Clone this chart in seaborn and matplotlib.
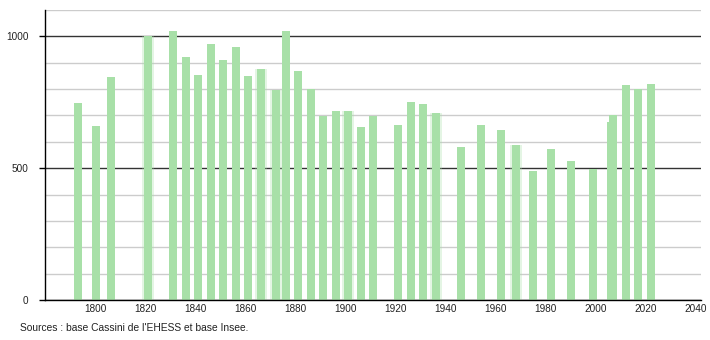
import matplotlib
matplotlib.use("Agg")
import matplotlib.pyplot as plt
import seaborn as sns
import pandas as pd
import numpy as np

years = [1793, 1800, 1806, 1821, 1831, 1836, 1841, 1846, 1851, 1856,
         1861, 1866, 1872, 1876, 1881, 1886, 1891, 1896, 1901, 1906,
         1911, 1921, 1926, 1931, 1936, 1946, 1954, 1962, 1968, 1975,
         1982, 1990, 1999, 2006, 2007, 2012, 2017, 2022]
population = [748, 659, 845, 1001, 1022, 923, 855, 970, 909, 958,
              848, 878, 797, 1021, 868, 801, 697, 717, 717, 657,
              697, 662, 752, 744, 710, 581, 662, 646, 589, 490,
              574, 529, 497, 677, 703, 817, 802, 821]
blurred_years = [1821, 1866, 1872, 1901, 1936, 1968]
x_ticks = [1800, 1820, 1840, 1860, 1880, 1900, 1920, 1940, 1960, 1980, 2000, 2020, 2040]
y_major = [0, 500, 1000]
y_minor = [100, 200, 300, 400, 600, 700, 800, 900, 1100]
source_text = "Sources : base Cassini de l'EHESS et base Insee."

sns.set_theme(style="white")
plt.rcParams['font.family'] = ['Liberation Sans', 'DejaVu Sans']

df = pd.DataFrame({"year": years, "pop": population})
dfb = df[df["year"].isin(blurred_years)]

fig = plt.figure(figsize=(7.1, 3.4), dpi=100)
ax = fig.add_axes([45/710, 40/340, (701-45)/710, 290/340])

bar_color = "#a8e0a8"
bar_years = 3.2
min_gap_all = float(np.min(np.diff(sorted(years))))
min_gap_blur = float(np.min(np.diff(sorted(blurred_years))))

# soft halo for the blurred-looking bars
sns.barplot(data=dfb, x="year", y="pop", native_scale=True,
            width=(bar_years + 1.6) / min_gap_blur,
            color=bar_color, alpha=0.3, saturation=1, ax=ax, errorbar=None,
            linewidth=0, edgecolor="none")
sns.barplot(data=df, x="year", y="pop", native_scale=True,
            width=bar_years / min_gap_all,
            color=bar_color, saturation=1, ax=ax, errorbar=None,
            linewidth=0, edgecolor="none")

ax.set_xlim(1779.8, 2042)
ax.set_ylim(0, 1100)
ax.set_xticks(x_ticks)
ax.set_xticklabels([str(t) for t in x_ticks])
ax.set_yticks(y_major)
ax.set_yticklabels([str(t) for t in y_major])
ax.set_yticks(y_minor, minor=True)
ax.set_axisbelow(True)
ax.grid(False)
ax.grid(axis="y", which="minor", color="#cccccc", linewidth=1.0)
ax.grid(axis="y", which="major", color="#333333", linewidth=1.0)
ax.set_xlabel("")
ax.set_ylabel("")
for s in ["top", "right"]:
    ax.spines[s].set_visible(False)
for s in ["left", "bottom"]:
    ax.spines[s].set_color("black")
    ax.spines[s].set_linewidth(1.0)
ax.tick_params(axis="x", length=0, pad=3, labelsize=7.2, colors="#222222")
ax.tick_params(axis="y", which="major", length=4, width=1, color="black",
               pad=8, labelsize=7.2, labelcolor="#222222", left=True)
ax.tick_params(axis="y", which="minor", length=0, left=False)

fig.text(20/710, 1 - 328/340, source_text, fontsize=7.4, color="#222222",
         va="center", ha="left")

fig.savefig("out.png", dpi=100)
